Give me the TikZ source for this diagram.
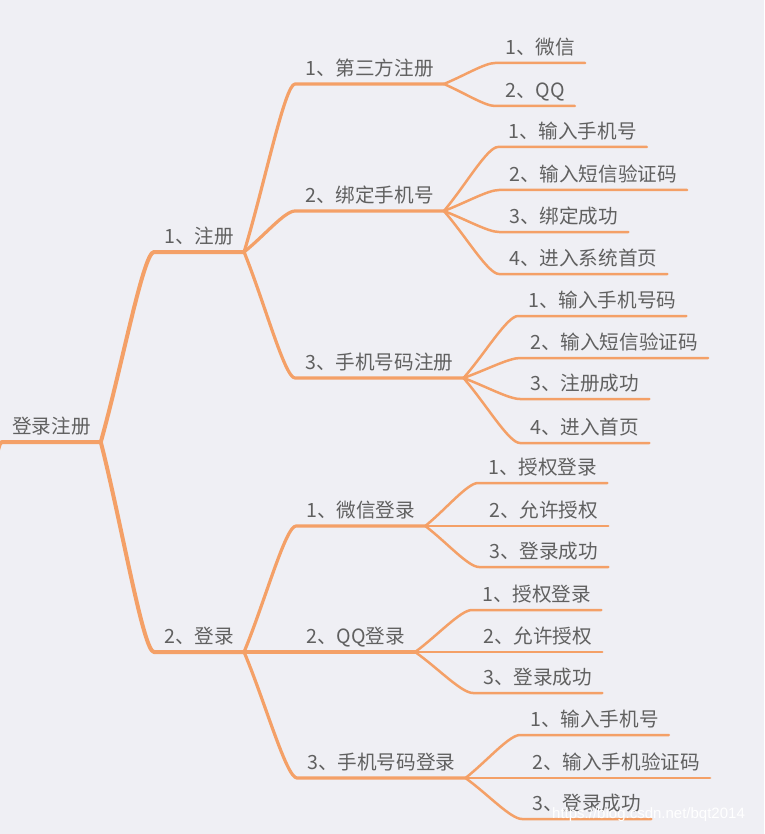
\documentclass[tikz,border=0pt]{standalone}
\usepackage{fontspec}
\usepackage{tikz}
\usetikzlibrary{calc}
\newfontfamily\cjk{Noto Sans CJK SC}
\newfontfamily\markfont{Liberation Sans}
\definecolor{paper}{HTML}{EFEFF4}
\definecolor{branchorange}{HTML}{F4A067}
\definecolor{inkgray}{HTML}{606060}
\tikzset{
  topic/.style={font=\cjk\fontsize{19.6}{22}\selectfont, text=inkgray, anchor=south west,
                inner xsep=10pt, inner ysep=8pt, text depth=0pt},
  trunk/.style={draw=branchorange, line width=4pt, line cap=round, line join=round},
  limb/.style={draw=branchorange, line width=3.2pt, line cap=round, line join=round},
  twig/.style={draw=branchorange, line width=2.5pt, line cap=round, line join=round}
}
% curve from a parent's junction to a child, then the child's underline
\newcommand{\grow}[3]{%
  \draw[#1] (#2.south east)
    .. controls ($(#2.south east)!0.4!(#3.south west)$)
           and ($(#3.south west)!0.2!(#3.south west -| #2.south east)$) .. (#3.south west)
    -- (#3.south east);}

\begin{document}
\begin{tikzpicture}[x=1pt, y=-1pt]
  \fill[paper] (0,0) rectangle (764,834);
  \useasboundingbox (0,0) rectangle (764,834);

  % root
  \coordinate (edge) at (-2,450);
  \node[topic] (root) at (2,442) {登录注册};
  \draw[trunk] (edge) .. controls (0,443) .. (root.south west) -- (root.south east);

  % first level
  \node[topic] (reg) at (154,252) {1、注册};
  \node[topic] (log) at (154,652) {2、登录};
  \grow{trunk}{root}{reg}
  \grow{trunk}{root}{log}

  % second level
  \node[topic] (third) at (295,84)  {1、第三方注册};
  \node[topic] (bind)  at (295,211) {2、绑定手机号};
  \node[topic] (phreg) at (295,378) {3、手机号码注册};
  \node[topic] (wxlog) at (296,526) {1、微信登录};
  \node[topic] (qqlog) at (296,652) {2、QQ登录};
  \node[topic] (phlog) at (297,778) {3、手机号码登录};
  \grow{limb}{reg}{third}
  \grow{limb}{reg}{bind}
  \grow{limb}{reg}{phreg}
  \grow{limb}{log}{wxlog}
  \grow{limb}{log}{qqlog}
  \grow{limb}{log}{phlog}

  % leaves
  \node[topic] (wx)  at (495,63)  {1、微信};
  \node[topic] (qq)  at (495,106) {2、QQ};
  \node[topic] (bd1) at (498,147) {1、输入手机号};
  \node[topic] (bd2) at (499,190) {2、输入短信验证码};
  \node[topic] (bd3) at (499,232) {3、绑定成功};
  \node[topic] (bd4) at (499,274) {4、进入系统首页};
  \node[topic] (pr1) at (518,316) {1、输入手机号码};
  \node[topic] (pr2) at (520,358) {2、输入短信验证码};
  \node[topic] (pr3) at (520,399) {3、注册成功};
  \node[topic] (pr4) at (520,443) {4、进入首页};
  \node[topic] (wl1) at (478,483) {1、授权登录};
  \node[topic] (wl2) at (479,526) {2、允许授权};
  \node[topic] (wl3) at (479,567) {3、登录成功};
  \node[topic] (ql1) at (472,610) {1、授权登录};
  \node[topic] (ql2) at (473,652) {2、允许授权};
  \node[topic] (ql3) at (473,693) {3、登录成功};
  \node[topic] (pl1) at (520,735) {1、输入手机号};
  \node[topic] (pl2) at (522,778) {2、输入手机验证码};
  \node[topic] (pl3) at (522,819) {3、登录成功};
  \foreach \kid in {wx,qq} {\grow{twig}{third}{\kid}}
  \foreach \kid in {bd1,bd2,bd3,bd4} {\grow{twig}{bind}{\kid}}
  \foreach \kid in {pr1,pr2,pr3,pr4} {\grow{twig}{phreg}{\kid}}
  \foreach \kid in {wl1,wl2,wl3} {\grow{twig}{wxlog}{\kid}}
  \foreach \kid in {ql1,ql2,ql3} {\grow{twig}{qqlog}{\kid}}
  \foreach \kid in {pl1,pl2,pl3} {\grow{twig}{phlog}{\kid}}

  % watermark
  \node[font=\markfont\fontsize{15}{17}\selectfont, text=white, anchor=west, inner sep=0pt]
    (mark) at (552,815) {https://blog.csdn.net/bqt2014};
\end{tikzpicture}
\end{document}
